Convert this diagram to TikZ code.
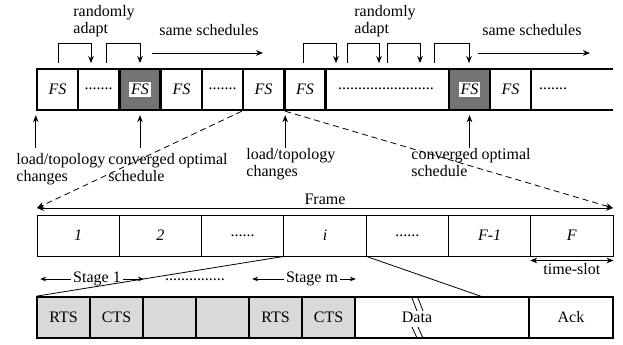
\documentclass[tikz,border=0pt]{standalone}
\usepackage{fontspec}
\setmainfont{Liberation Serif}
\usetikzlibrary{arrows.meta}

\newcommand{\figfont}{\fontsize{8}{8.3}\selectfont}
\newcommand{\onwhite}[1]{{\setlength{\fboxsep}{1pt}\colorbox{white}{#1}}}
\newcommand{\slotdots}{......}

\begin{document}
\begin{tikzpicture}[x=0.5pt, y=-0.5pt, font=\figfont,
    >={Stealth[length=3.5pt,width=2.8pt]},
    fsbox/.style={draw, line width=1.2pt, minimum width=20.5pt, minimum height=20.5pt,
      inner sep=0pt, font=\figfont\itshape},
    slot/.style={draw, line width=0.5pt, minimum width=41.14pt, minimum height=20.5pt, inner sep=0pt},
    msg/.style={draw, line width=0.8pt, minimum width=26.5pt, minimum height=20.5pt, inner sep=0pt},
    note/.style={align=left, anchor=north west, inner sep=0pt}]
  \useasboundingbox (0,0) rectangle (623,344);

  % Schedule band
  \draw[line width=0.6pt] (37,69) -- (613,69) (37,110) -- (613,110);
  \node[fsbox] (fsA) at (57.5,89.5) {FS};
  \node (dotsA) at (98.5,89) {.......};
  \node[fsbox, fill=black!55] (fsB) at (140,89.5) {\onwhite{FS}};
  \node[fsbox] (fsC) at (181.5,89.5) {FS};
  \node (dotsB) at (222.5,89) {.......};
  \node[fsbox] (fsD) at (263.5,89.5) {FS};
  \node[fsbox] (fsE) at (305,89.5) {FS};
  \node (dotsC) at (386,89) {........................};
  \node[fsbox, fill=black!55] (fsF) at (469.5,89.5) {\onwhite{FS}};
  \node[fsbox] (fsG) at (510.5,89.5) {FS};
  \node (dotsD) at (553,89) {.......};

  % Adaptation steps
  \foreach \a/\b in {58/91, 106/140, 303/336, 347/379, 387/420, 434/469}
    \draw[->] (\a,63) |- (\b,43) -- (\b,63);
  \node[note] (adaptL) at (73,5) {randomly\\adapt};
  \node[note] (adaptR) at (354,5) {randomly\\adapt};
  \node[anchor=base west, inner sep=0pt] (sameL) at (159,35) {same schedules};
  \node[anchor=base west, inner sep=0pt] (sameR) at (482,35) {same schedules};
  \draw[->] (152,53) -- (263,53);
  \draw[->] (478,53) -- (590,53);

  % Events below the band
  \foreach \n in {fsA.south west, fsB.south, fsD.south east, fsF.south}
    \draw[->] ([yshift=-18.5pt]\n) -- ([yshift=-2pt]\n);
  \node[note] (loadA) at (16,153) {load/topology\\changes};
  \node[note] (convA) at (108,153) {converged optimal\\schedule};
  \node[note] (loadB) at (246,148) {load/topology\\changes};
  \node[note] (convB) at (411,148) {converged optimal\\schedule};

  % Frame of time-slots
  \foreach \lbl [count=\k from 0] in {\textit{1}, \textit{2}, \slotdots, \textit{i}, \slotdots, \textit{F-1}, \textit{F}}
    \node[slot] (fr\k) at (78.14+82.29*\k, 235.5) {\lbl};
  \coordinate (frL) at (37,208);
  \coordinate (frR) at (613,208);
  \draw[<->] (frL) -- node[midway, above=1pt, inner sep=0.5pt] (frame) {Frame} (frR);
  \draw[dashed, dash pattern=on 3pt off 2pt, ->] (fsD.south west) -- (frL);
  \draw[dashed, dash pattern=on 3pt off 2pt, ->] (fsD.south east) -- (frR);
  \draw[<->] ([yshift=-2pt]fr6.south west) -- node[below, inner sep=1pt] (tslot) {time-slot} ([yshift=-2pt]fr6.south east);

  % Inside one time-slot
  \foreach \lbl [count=\k from 0] in {RTS, CTS, {}, {}, RTS, CTS}
    \node[msg, fill=black!15] (m\k) at (63.5+53*\k, 317.5) {\lbl};
  \node[msg, minimum width=87pt] (data) at (442,317.5) {};
  \node (datatxt) at (417,317.5) {Data};
  \node[msg, minimum width=42pt] (ack) at (571,317.5) {Ack};
  \foreach \dx in {0,6} {
    \draw (412+\dx,298) -- (417+\dx,311);
    \draw (412+\dx,327) -- (417+\dx,338);
  }
  \coordinate (zoomR) at (483,297);
  \draw (fr3.south west) -- (m0.north west);
  \draw (fr3.south east) -- (zoomR);

  % Stages
  \begin{scope}[>={Stealth[length=3pt,width=2.4pt]}]
    \node[inner sep=1pt] (stA) at (97,279) {Stage 1};
    \draw[->] (stA.west) -- ([xshift=2pt]stA.west -| m0.west);
    \draw[->] (stA.east) -- (stA.east -| m1.east);
    \node (stDots) at (195,280) {...............};
    \node[inner sep=1pt] (stM) at (312,279) {Stage m};
    \draw[->] (stM.west) -- ([xshift=2pt]stM.west -| m4.west);
    \draw[->] (stM.east) -- (stM.east -| m5.east);
  \end{scope}
\end{tikzpicture}
\end{document}
